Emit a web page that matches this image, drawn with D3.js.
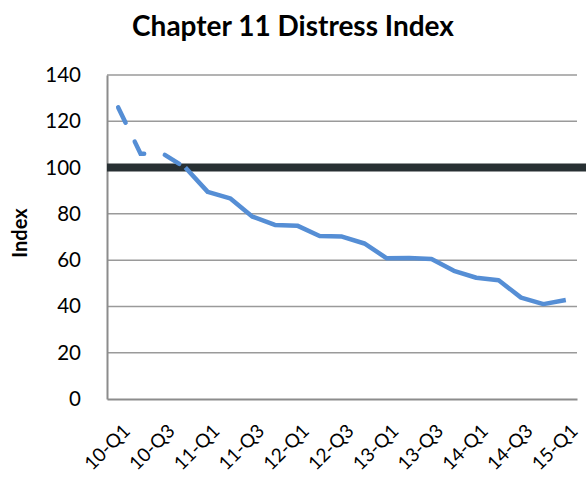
<!DOCTYPE html>
<html>
<head>
<meta charset="utf-8">
<script src="https://cdn.jsdelivr.net/npm/d3@7"></script>
<style>
  body { margin: 0; background: #fff; }
  svg { display: block; font-family: Lato, "Open Sans", sans-serif; }
</style>
</head>
<body>
<svg class="chart" width="586" height="477"></svg>
<script>

var quarters = ["10-Q1","10-Q2","10-Q3","10-Q4","11-Q1","11-Q2","11-Q3","11-Q4",
                "12-Q1","12-Q2","12-Q3","12-Q4","13-Q1","13-Q2","13-Q3","13-Q4",
                "14-Q1","14-Q2","14-Q3","14-Q4","15-Q1"];

var indexValues = [126, 106, 106, 100, 89.5, 86.7, 78.8, 75.2, 74.9, 70.4, 70.2,
                   67.2, 60.8, 60.9, 60.5, 55.4, 52.4, 51.3, 43.8, 41, 42.8];

var dashedUntil = 3;   // first segments drawn dashed
var baseline    = 100;
var yTicks      = [0, 20, 40, 60, 80, 100, 120, 140];

function drawChart(){

  var svg = d3.select(".chart");

  var left = 107, right = 577, top = 75, bottom = 399;

  var scaleX = d3.scaleBand()
                 .domain(quarters)
                 .range([left, right]);

  var scaleY = d3.scaleLinear()
                 .domain([0, 140])
                 .range([bottom, top]);

  // gridlines
  svg.append("g")
    .selectAll("line")
    .data(yTicks.filter(function(d){ return d > 0; }))
    .enter().append("line")
      .attr("x1", left)
      .attr("x2", right)
      .attr("y1", function(d){ return scaleY(d); })
      .attr("y2", function(d){ return scaleY(d); })
      .attr("stroke", "#9a9a9a")
      .attr("stroke-width", 1.5);

  // y axis
  var y_axis = d3.axisLeft(scaleY)
                 .tickValues(yTicks)
                 .tickSize(0)
                 .tickPadding(26);

  var gy = svg.append("g")
    .attr("transform", "translate(" + left + ",0)")
    .call(y_axis);
  gy.select(".domain").attr("stroke", "#8c8c8c").attr("stroke-width", 2);
  gy.selectAll("text")
    .attr("font-size", 20.5)
    .attr("font-family", "Lato, 'Open Sans', sans-serif")
    .attr("fill", "#000");

  // x axis
  var x_axis = d3.axisBottom(scaleX)
                 .tickValues(quarters.filter(function(d, i){ return i % 2 == 0; }))
                 .tickSize(0)
                 .tickSizeOuter(0);

  var gx = svg.append("g")
    .attr("transform", "translate(0," + bottom + ")")
    .call(x_axis);
  gx.select(".domain").attr("stroke", "#8c8c8c").attr("stroke-width", 2);
  gx.selectAll("text")
    .attr("font-size", 19)
    .attr("font-family", "Lato, 'Open Sans', sans-serif")
    .attr("fill", "#000")
    .attr("text-anchor", "end")
    .attr("dy", 0)
    .attr("transform", "translate(11,31) rotate(-45)");

  // reference line at 100
  svg.append("line")
    .attr("x1", left)
    .attr("x2", 586)
    .attr("y1", scaleY(baseline))
    .attr("y2", scaleY(baseline))
    .attr("stroke", "#283033")
    .attr("stroke-width", 8);

  var pts = indexValues.map(function(v, i){ return { v: v, i: i }; });
  var lineFunction = d3.line()
    .x(function(d) { return scaleX(quarters[d.i]) + scaleX.bandwidth() / 2; })
    .y(function(d) { return scaleY(d.v); });

  svg.append("path")
    .attr("d", lineFunction(pts.slice(0, dashedUntil + 1)))
    .attr("stroke", "#558ed5")
    .attr("stroke-width", 4.5)
    .attr("stroke-dasharray", "17,21")
    .attr("stroke-linecap", "round")
    .attr("fill", "none");

  svg.append("path")
    .attr("d", lineFunction(pts.slice(dashedUntil)))
    .attr("stroke", "#558ed5")
    .attr("stroke-width", 4.5)
    .attr("stroke-linejoin", "round")
    .attr("fill", "none");

  // title
  svg.append("text")
    .attr("x", 293)
    .attr("y", 36)
    .attr("text-anchor", "middle")
    .attr("font-size", 28)
    .attr("font-weight", "bold")
    .text("Chapter 11 Distress Index");

  // y axis label
  svg.append("text")
    .attr("transform", "translate(27,233) rotate(-90)")
    .attr("text-anchor", "middle")
    .attr("font-size", 20)
    .attr("font-weight", "bold")
    .text("Index");
}

drawChart();
</script>
</body>
</html>
